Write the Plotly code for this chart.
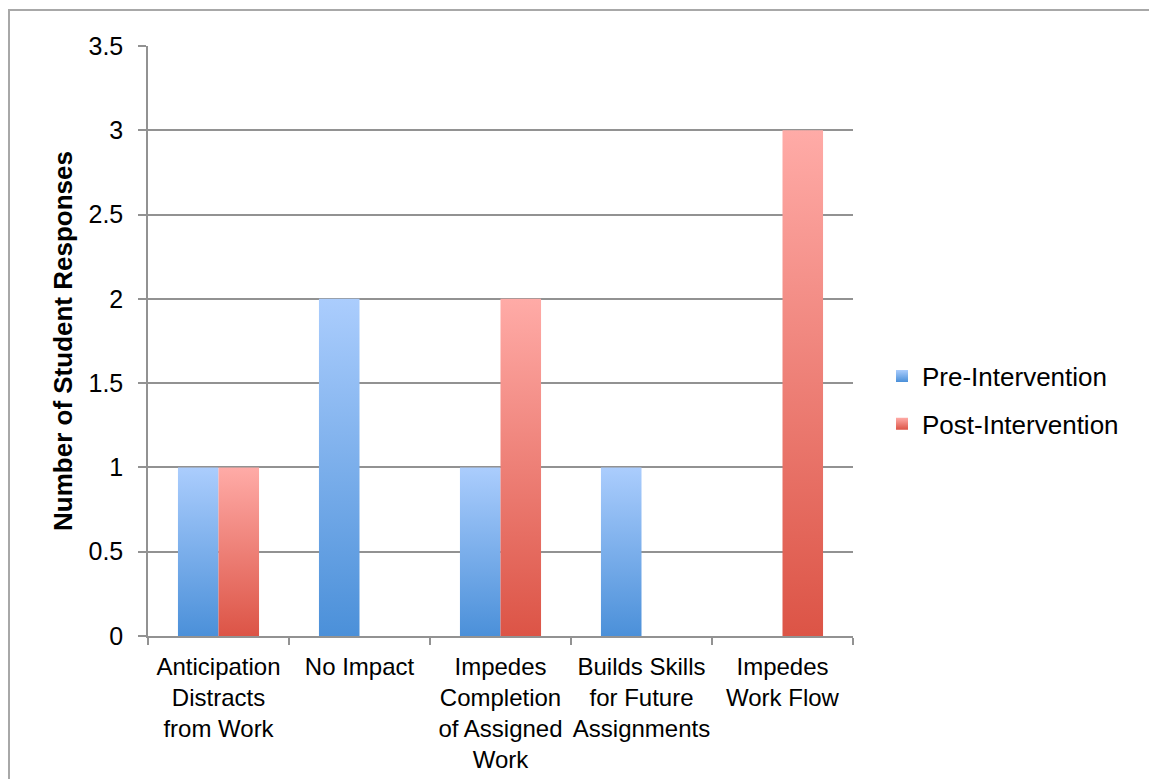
import plotly.graph_objects as go

categories = [
    "Anticipation<br>Distracts<br>from Work",
    "No Impact",
    "Impedes<br>Completion<br>of Assigned<br>Work",
    "Builds Skills<br>for Future<br>Assignments",
    "Impedes<br>Work Flow",
]
pre_values = [1, 2, 1, 1, 0]
post_values = [1, 0, 2, 0, 3]
series_names = ["Pre-Intervention", "Post-Intervention"]

y_ticks = [0, 0.5, 1, 1.5, 2, 2.5, 3, 3.5]
y_tick_text = ["0", "0.5", "1", "1.5", "2", "2.5", "3", "3.5"]

BAR_W = 0.2875
FONT = "Liberation Sans, Arial, Helvetica, sans-serif"
GRID = "#929292"
styles = [
    dict(top="#abcdfd", bottom="#4b90d9"),
    dict(top="#ffaba7", bottom="#dc5446"),
]

# figure sits 8px inside the page (body margin)
FW, FH = 1149, 771
L, T, PW, PH = 140, 38, 705, 590

fig = go.Figure()

for s, (name, vals) in enumerate(zip(series_names, [pre_values, post_values])):
    st = styles[s]
    for i, v in enumerate(vals):
        if v <= 0:
            continue
        x0 = i - BAR_W if s == 0 else i
        x1 = x0 + BAR_W
        fig.add_trace(go.Scatter(
            x=[x0, x1, x1, x0, x0],
            y=[0, 0, v, v, 0],
            mode="lines",
            line=dict(width=0),
            fill="toself",
            fillgradient=dict(type="vertical",
                              colorscale=[[0, st["bottom"]], [1, st["top"]]]),
            showlegend=False,
            legendgroup=name,
            hoverinfo="text",
            text=f"{name}: {v}",
        ))
    fig.add_trace(go.Scatter(
        x=[None], y=[None], mode="markers", name=name, legendgroup=name,
        marker=dict(symbol="square", size=14,
                    color=st["top"],
                    gradient=dict(type="vertical", color=st["bottom"])),
    ))

fig.update_layout(
    width=FW, height=FH,
    margin=dict(l=L, r=FW - L - PW, t=T, b=FH - T - PH, autoexpand=False),
    paper_bgcolor="white", plot_bgcolor="white",
    font=dict(family=FONT, size=24, color="black"),
    showlegend=True,
    legend=dict(x=(874 - L) / PW, y=0.4, xanchor="left", yanchor="middle",
                font=dict(size=26), tracegroupgap=11,
                itemsizing="constant", bgcolor="rgba(0,0,0,0)"),
    xaxis=dict(
        range=[-0.5, 4.5], tickmode="array",
        tickvals=list(range(len(categories))), ticktext=categories,
        ticks="", showgrid=False, zeroline=False,
        showline=True, linecolor=GRID, linewidth=1.5,
        tickfont=dict(size=24), ticklabelstandoff=8,
        minor=dict(tickmode="array",
                   tickvals=[i - 0.5 for i in range(len(categories) + 1)],
                   ticks="outside", ticklen=7, tickcolor=GRID, tickwidth=1.5,
                   showgrid=False),
        fixedrange=True,
    ),
    yaxis=dict(
        range=[0, 3.5], tickmode="array", tickvals=y_ticks, ticktext=y_tick_text,
        ticks="outside", ticklen=8, tickcolor=GRID, tickwidth=1.5,
        showgrid=True, gridcolor=GRID, gridwidth=1.5,
        showline=True, linecolor=GRID, linewidth=1.5, zeroline=False,
        tickfont=dict(size=25), ticklabelstandoff=10,
        title=dict(text="<b>Number of Student Responses</b>",
                   font=dict(size=26), standoff=8),
        fixedrange=True,
    ),
    shapes=[dict(type="rect", xref="paper", yref="paper",
                 x0=(1 - L) / PW, x1=(FW + 20 - L) / PW,
                 y0=(T + PH - (FH + 20)) / PH, y1=(T + PH - 2) / PH,
                 line=dict(color="#a8a8a8", width=2), fillcolor="rgba(0,0,0,0)",
                 layer="below")],
)

fig.write_html("out.html")
